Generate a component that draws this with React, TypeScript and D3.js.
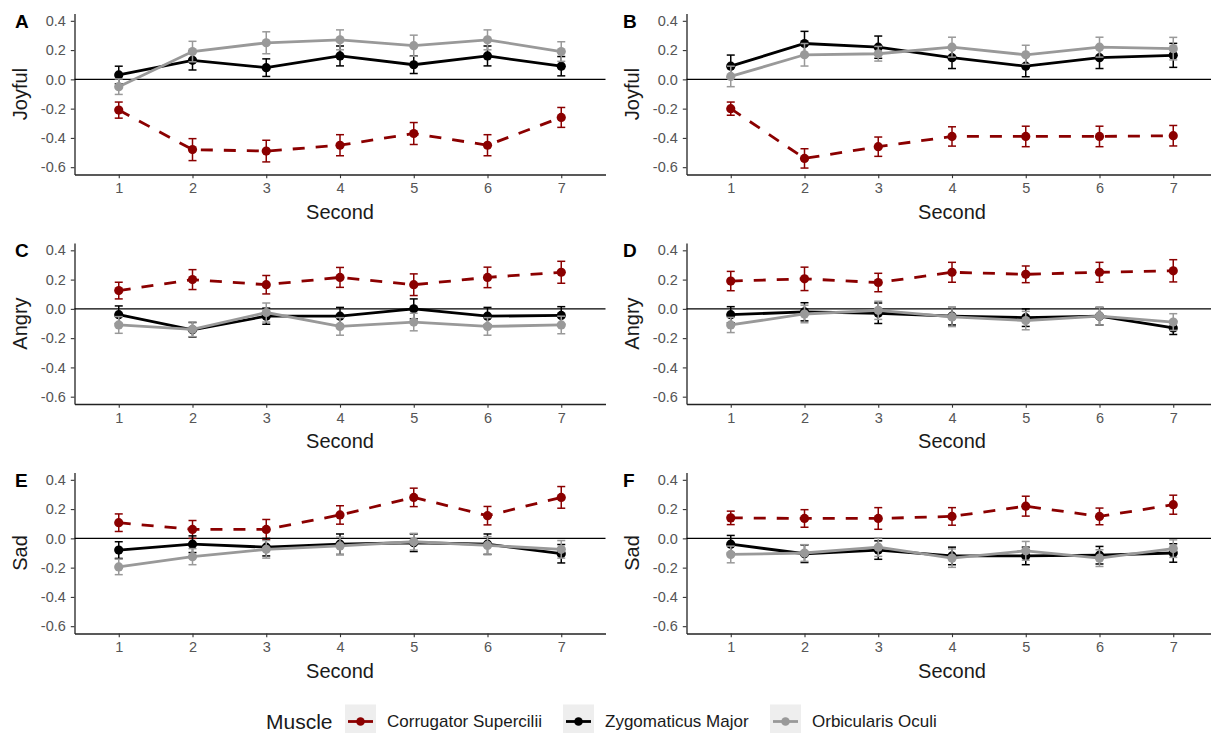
import React, { useEffect, useRef } from "react";
import * as d3 from "d3";

// seconds on the x axis, muscles are the series
const seconds = [1, 2, 3, 4, 5, 6, 7];
const muscles = ["Corrugator Supercilii", "Zygomaticus Major", "Orbicularis Oculi"];
const emotions = ["Joyful", "Angry", "Sad"];
const panelLetters = ["A", "B", "C", "D", "E", "F"];
const yTicks = [0.4, 0.2, 0.0, -0.2, -0.4, -0.6];

// each panel: [corrugator, zygomaticus, orbicularis]
const meanA = [
  [-0.21, -0.48, -0.49, -0.45, -0.37, -0.45, -0.26],
  [0.03, 0.13, 0.08, 0.16, 0.1, 0.16, 0.09],
  [-0.05, 0.19, 0.25, 0.27, 0.23, 0.27, 0.19],
];
const errA = [
  [0.055, 0.075, 0.074, 0.072, 0.075, 0.072, 0.068],
  [0.06, 0.066, 0.06, 0.068, 0.06, 0.068, 0.066],
  [0.053, 0.07, 0.075, 0.068, 0.072, 0.068, 0.067],
];
const meanB = [
  [-0.2, -0.54, -0.46, -0.39, -0.39, -0.39, -0.385],
  [0.09, 0.245, 0.22, 0.148, 0.09, 0.148, 0.164],
  [0.02, 0.168, 0.175, 0.22, 0.168, 0.22, 0.21],
];
const errB = [
  [0.045, 0.066, 0.066, 0.066, 0.07, 0.07, 0.07],
  [0.076, 0.083, 0.076, 0.074, 0.072, 0.074, 0.082],
  [0.07, 0.077, 0.05, 0.068, 0.065, 0.068, 0.077],
];
const meanC = [
  [0.125, 0.2, 0.165, 0.215, 0.165, 0.215, 0.25],
  [-0.04, -0.143, -0.05, -0.05, 0.0, -0.05, -0.045],
  [-0.11, -0.14, -0.025, -0.12, -0.09, -0.12, -0.11],
];
const errC = [
  [0.057, 0.068, 0.063, 0.068, 0.074, 0.07, 0.075],
  [0.06, 0.05, 0.055, 0.06, 0.068, 0.06, 0.06],
  [0.057, 0.05, 0.065, 0.06, 0.06, 0.06, 0.06],
];
const meanD = [
  [0.19, 0.205, 0.18, 0.25, 0.236, 0.25, 0.26],
  [-0.04, -0.02, -0.03, -0.05, -0.06, -0.05, -0.13],
  [-0.11, -0.035, -0.01, -0.055, -0.08, -0.05, -0.09],
];
const errD = [
  [0.066, 0.08, 0.063, 0.068, 0.057, 0.068, 0.076],
  [0.055, 0.062, 0.07, 0.06, 0.06, 0.06, 0.045],
  [0.052, 0.06, 0.062, 0.066, 0.063, 0.06, 0.057],
];
const meanE = [
  [0.107, 0.061, 0.061, 0.16, 0.28, 0.155, 0.28],
  [-0.08, -0.04, -0.06, -0.04, -0.03, -0.04, -0.105],
  [-0.195, -0.125, -0.075, -0.052, -0.023, -0.048, -0.075],
];
const errE = [
  [0.06, 0.061, 0.068, 0.063, 0.063, 0.063, 0.074],
  [0.057, 0.057, 0.06, 0.07, 0.06, 0.07, 0.063],
  [0.053, 0.055, 0.06, 0.06, 0.057, 0.06, 0.06],
];
const meanF = [
  [0.14, 0.136, 0.136, 0.15, 0.22, 0.15, 0.23],
  [-0.04, -0.105, -0.08, -0.12, -0.12, -0.115, -0.1],
  [-0.11, -0.1, -0.06, -0.135, -0.085, -0.135, -0.07],
];
const errF = [
  [0.046, 0.06, 0.074, 0.06, 0.068, 0.057, 0.065],
  [0.06, 0.06, 0.063, 0.06, 0.06, 0.06, 0.063],
  [0.057, 0.057, 0.063, 0.063, 0.064, 0.057, 0.06],
];

const panelMeans = [meanA, meanB, meanC, meanD, meanE, meanF];
const panelErrs = [errA, errB, errC, errD, errE, errF];

const colors = ["#8B0000", "#000000", "#999999"];
const dashes = ["12,11", null, null];
const FONT = "'Liberation Sans', Arial, sans-serif";

export default function App() {
  const svgRef = useRef<SVGSVGElement>(null);

  useEffect(() => {
    const W = 1211;
    const H = 733;
    const colX = [74.5, 686.5];
    const rowY = [13.5, 243, 472.5];
    const plotW = 531;
    const plotH = 161;
    const letterX = [15, 623];
    const ylabX = [20, 632];

    const svg = d3.select(svgRef.current).attr("width", W).attr("height", H);
    svg.selectAll("*").remove();
    svg.append("rect").attr("width", W).attr("height", H).attr("fill", "#fff");

    panelMeans.forEach((means, p) => {
      const row = Math.floor(p / 2);
      const col = p % 2;
      const x0 = colX[col];
      const y0 = rowY[row];
      const errs = panelErrs[p];

      const x = d3.scaleLinear().domain([0.4, 7.6]).range([x0, x0 + plotW]);
      const y = d3.scaleLinear().domain([-0.65, 0.45]).range([y0 + plotH, y0]);

      const g = svg.append("g");

      // axes
      const yAxis = g.append("g")
        .attr("transform", `translate(${x0},0)`)
        .call(d3.axisLeft(y).tickValues(yTicks).tickSize(3.7).tickSizeOuter(0).tickPadding(5)
          .tickFormat(d => (+d).toFixed(1)));
      const xAxis = g.append("g")
        .attr("transform", `translate(0,${y0 + plotH})`)
        .call(d3.axisBottom(x).tickValues(seconds).tickSize(3.7).tickSizeOuter(0).tickPadding(5)
          .tickFormat(d3.format("d")));
      [yAxis, xAxis].forEach(ax => {
        ax.select(".domain").attr("stroke", "#222").attr("stroke-width", 1.3);
        ax.selectAll(".tick line").attr("stroke", "#333").attr("stroke-width", 1.1);
        ax.selectAll(".tick text")
          .attr("fill", "#555")
          .style("font-family", FONT)
          .style("font-size", "14.5px");
      });

      // zero reference line
      g.append("line")
        .attr("x1", x0).attr("x2", x0 + plotW)
        .attr("y1", y(0)).attr("y2", y(0))
        .attr("stroke", "#000").attr("stroke-width", 1.3);

      // series
      means.forEach((vals, s) => {
        const pts = seconds.map((sec, i) => ({ sec, v: vals[i], e: errs[s][i] }));
        const line = d3.line<any>().x(d => x(d.sec)).y(d => y(d.v));
        const sg = g.append("g");
        sg.append("path")
          .datum(pts)
          .attr("d", line)
          .attr("fill", "none")
          .attr("stroke", colors[s])
          .attr("stroke-width", 2.8)
          .attr("stroke-dasharray", dashes[s] || null);
        const eb = sg.selectAll(".eb").data(pts).join("g");
        eb.append("line")
          .attr("x1", d => x(d.sec)).attr("x2", d => x(d.sec))
          .attr("y1", d => y(d.v - d.e)).attr("y2", d => y(d.v + d.e))
          .attr("stroke", colors[s]).attr("stroke-width", 1.5);
        [-1, 1].forEach(sign => {
          eb.append("line")
            .attr("x1", d => x(d.sec) - 4).attr("x2", d => x(d.sec) + 4)
            .attr("y1", d => y(d.v + sign * d.e)).attr("y2", d => y(d.v + sign * d.e))
            .attr("stroke", colors[s]).attr("stroke-width", 1.5);
        });
        sg.selectAll("circle").data(pts).join("circle")
          .attr("cx", d => x(d.sec)).attr("cy", d => y(d.v))
          .attr("r", 4.6).attr("fill", colors[s]);
      });

      // labels
      g.append("text")
        .attr("x", x0 + plotW / 2)
        .attr("y", y0 + plotH + 44)
        .attr("text-anchor", "middle")
        .style("font-family", FONT).style("font-size", "20px").attr("fill", "#1a1a1a")
        .text("Second");
      g.append("text")
        .attr("transform", `translate(${ylabX[col]},${y0 + plotH / 2}) rotate(-90)`)
        .attr("text-anchor", "middle")
        .attr("dy", "0.35em")
        .style("font-family", FONT).style("font-size", "20px").attr("fill", "#1a1a1a")
        .text(emotions[row]);
      g.append("text")
        .attr("x", letterX[col])
        .attr("y", y0 + 14)
        .style("font-family", FONT).style("font-size", "19px").style("font-weight", "bold")
        .attr("fill", "#000")
        .text(panelLetters[p]);
    });

    // legend
    const lg = svg.append("g");
    const ly = 721.5;
    lg.append("text")
      .attr("x", 266).attr("y", ly).attr("dy", "0.35em")
      .style("font-family", FONT).style("font-size", "21px").attr("fill", "#1a1a1a")
      .text("Muscle");
    const keyX = [345, 563, 770];
    muscles.forEach((m, s) => {
      const kx = keyX[s];
      lg.append("rect")
        .attr("x", kx).attr("y", ly - 17).attr("width", 31).attr("height", 34)
        .attr("fill", "#eeeeee");
      lg.append("line")
        .attr("x1", kx + 3).attr("x2", kx + 28).attr("y1", ly).attr("y2", ly)
        .attr("stroke", colors[s]).attr("stroke-width", 2.8);
      lg.append("circle").attr("cx", kx + 15.5).attr("cy", ly).attr("r", 4.3).attr("fill", colors[s]);
      lg.append("text")
        .attr("x", kx + 42).attr("y", ly).attr("dy", "0.35em")
        .style("font-family", FONT).style("font-size", "17px").attr("fill", "#1a1a1a")
        .text(m);
    });
  }, []);

  return <svg ref={svgRef} style={{ position: "absolute", left: 0, top: 0, display: "block" }} />;
}
